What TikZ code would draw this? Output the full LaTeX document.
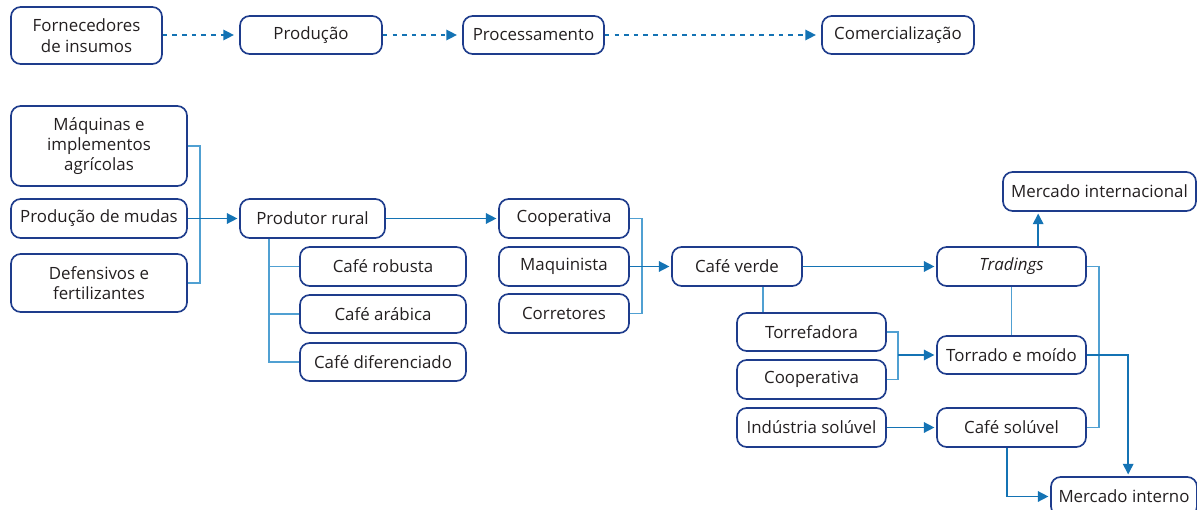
\documentclass[tikz,border=0pt]{standalone}
\usepackage{fontspec}
\setmainfont{Open Sans}
\usetikzlibrary{arrows.meta,calc}
\definecolor{boxblue}{RGB}{30,60,140}
\definecolor{arrblue}{RGB}{20,115,180}
\definecolor{lineblue}{RGB}{80,160,210}
\definecolor{txt}{RGB}{35,31,32}
\tikzset{
  box/.style={draw=boxblue, line width=0.95pt, rounded corners=5.5pt, align=center, inner sep=0pt, text=txt, font=\fontsize{9.6}{11.6}\selectfont},
  wh/.style 2 args={minimum width=#1*0.02cm, minimum height=#2*0.02cm},
  conn/.style={draw=lineblue, line width=0.85pt},
  arr/.style={draw=arrblue, line width=0.85pt, -{Triangle[length=6pt,width=6pt]}, shorten >=1pt},
  darr/.style={draw=arrblue, line width=0.8pt, dash pattern=on 2.5pt off 3pt, -{Triangle[length=6pt,width=6pt]}, shorten >=3pt},
}
\begin{document}
\begin{tikzpicture}[x=0.02cm,y=-0.02cm]
\useasboundingbox (0,0) rectangle (1197,510);
\clip (0,0) rectangle (1197,510);
% top row
\node[box,wh={151}{57}] (forn) at (86.5,35.5) {Fornecedores\\de insumos};
\node[box,wh={142}{38}] (prod) at (311,35) {Produção};
\node[box,wh={141}{38}] (proc) at (533.5,35) {Processamento};
\node[box,wh={152}{38}] (come) at (898,35) {Comercialização};
\draw[darr] (forn.east |- prod.west) -- (prod.west);
\draw[darr] (prod.east) -- (proc.west);
\draw[darr] (proc.east) -- (come.west);
% inputs
\node[box,wh={176}{80}] (maq) at (99,146) {Máquinas e\\implementos\\agrícolas};
\node[box,wh={176}{39}] (mud) at (99,218.5) {Produção de mudas};
\node[box,wh={176}{58}] (def) at (99,283) {Defensivos e\\fertilizantes};
\node[box,wh={145}{39}] (rural) at (312.5,218.5) {Produtor rural};
\node[box,wh={166}{39}] (rob) at (383,266.5) {Café robusta};
\node[box,wh={166}{38}] (ara) at (383,314) {Café arábica};
\node[box,wh={166}{38}] (dif) at (383,362) {Café diferenciado};
\coordinate (j1) at (200,218.5);
\draw[conn] (maq.east) -| (j1);
\draw[conn] (def.east) -| (j1);
\draw[arr] (mud.east) -- (rural.west);
\draw[conn] (rural.south west) ++(30,0) |- (dif.west);
\draw[conn] (rob.west) -- ++(-30,0);
\draw[conn] (ara.west) -- ++(-30,0);
% intermediaries
\node[box,wh={130}{39}] (coop) at (564,218.5) {Cooperativa};
\node[box,wh={130}{39}] (maqu) at (564,266.5) {Maquinista};
\node[box,wh={130}{39}] (corr) at (564,313.5) {Corretores};
\node[box,wh={130}{39}] (verde) at (737,266.5) {Café verde};
\draw[arr] (rural.east) -- (coop.west);
\coordinate (j2) at (642,266.5);
\draw[conn] (coop.east) -| (j2);
\draw[conn] (corr.east) -| (j2);
\draw[arr] (maqu.east) -- (verde.west);
% right part
\node[box,wh={149}{39}] (trad) at (1011.5,266.5) {\itshape Tradings};
\node[box,wh={193}{39}] (mint) at (1099.5,191.5) {Mercado internacional};
\node[box,wh={149}{38}] (torr) at (811.5,332) {Torrefadora};
\node[box,wh={149}{39}] (coop2) at (811.5,379.5) {Cooperativa};
\node[box,wh={149}{39}] (ind) at (811.5,427.5) {Indústria solúvel};
\node[box,wh={149}{38}] (tm) at (1011.5,355) {Torrado e moído};
\node[box,wh={149}{39}] (sol) at (1011.5,427.5) {Café solúvel};
\node[box,wh={146}{39}] (mi) at (1124,496.5) {Mercado interno};
\draw[arr] (verde.east) -- (trad.west);
\draw[conn] (torr.north west) ++(27,0) coordinate (t0) -- (t0 |- verde.south);
\draw[arr] (trad.north west) ++(102,0) coordinate (t1) -- (t1 |- mint.south);
\draw[conn] (trad.south) -- (tm.north);
\coordinate (j3) at (898,355);
\draw[conn] (torr.east) -| (j3);
\draw[conn] (coop2.east) -| (j3);
\draw[arr] (j3) -- (tm.west);
\draw[arr] (ind.east) -- (sol.west);
\draw[conn] (trad.east) -- ++(12,0) |- (sol.east);
\draw[arr] (tm.east) -| ($(mi.north west)+(78,0)$);
\draw[arr] (sol.south west) ++(71,0) |- (mi.west);
\end{tikzpicture}
\end{document}
